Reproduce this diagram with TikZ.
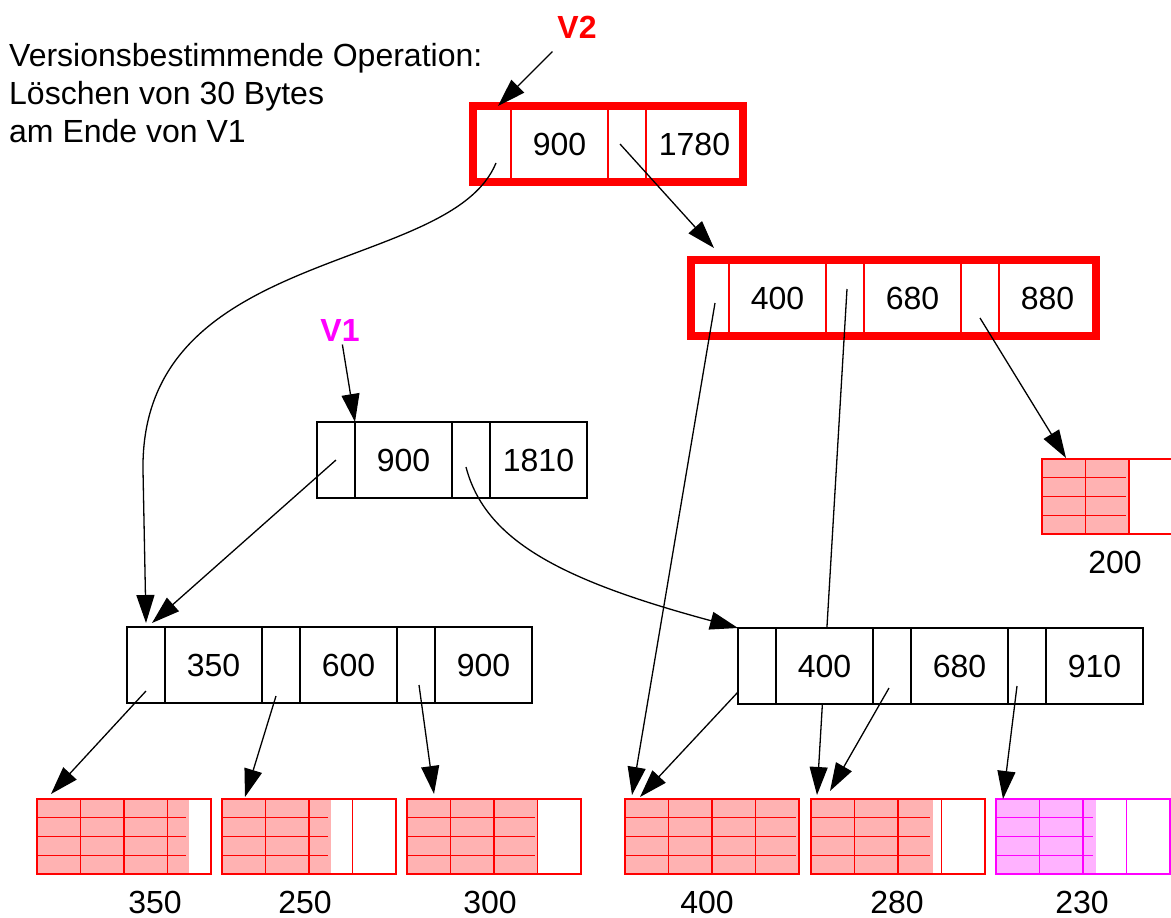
\documentclass[tikz,border=0pt]{standalone}
\usepackage{fontspec}
\setmainfont{Liberation Sans}
\usetikzlibrary{arrows.meta,positioning}
\definecolor{vmag}{RGB}{255,0,255}

\begin{document}
\begin{tikzpicture}[x=1pt, y=-1pt,
        font=\fontsize{32}{38}\selectfont,
        cell/.style={inner sep=0pt, outer sep=0pt, minimum height=76, line width=1.3pt},
        ptrcell/.style={cell, minimum width=38},
        keycell/.style={cell, minimum width=97},
        block/.style={inner sep=0pt, outer sep=0pt, minimum width=174, minimum height=75, line width=1.3pt},
        vlabel/.style={font=\fontsize{32}{38}\selectfont\bfseries},
        link/.style={-{Triangle[length=28pt,width=18pt]}, line width=1.3pt}]
    \useasboundingbox (0,0) rectangle (1171,918);

    \node[anchor=base west, align=left, inner sep=0pt] (op) at (9,142)
        {Versionsbestimmende Operation:\\L\"oschen von 30 Bytes\\am Ende von V1};

    % V2 root
    \node[ptrcell, draw=red, anchor=north west] (t1) at (473,106) {};
    \node[keycell, draw=red, right=0pt of t1] (t2) {900};
    \node[ptrcell, draw=red, right=0pt of t2] (t3) {};
    \node[keycell, draw=red, right=0pt of t3] (t4) {1780};
    \draw[red, line width=8pt] (t1.north west) rectangle (t4.south east);

    % V2 inner node
    \node[ptrcell, draw=red, anchor=north west] (r1) at (691,260) {};
    \node[keycell, draw=red, right=0pt of r1] (r2) {400};
    \node[ptrcell, draw=red, right=0pt of r2] (r3) {};
    \node[keycell, draw=red, right=0pt of r3] (r4) {680};
    \node[ptrcell, draw=red, right=0pt of r4] (r5) {};
    \node[keycell, draw=red, right=0pt of r5] (r6) {880};
    \draw[red, line width=8pt] (r1.north west) rectangle (r6.south east);

    % V1 root
    \node[ptrcell, draw, fill=white, anchor=north west] (w1) at (317,422) {};
    \node[keycell, draw, fill=white, right=0pt of w1] (w2) {900};
    \node[ptrcell, draw, fill=white, right=0pt of w2] (w3) {};
    \node[keycell, draw, fill=white, right=0pt of w3] (w4) {1810};

    % left inner node
    \node[ptrcell, draw, fill=white, anchor=north west] (l1) at (127,627) {};
    \node[keycell, draw, fill=white, right=0pt of l1] (l2) {350};
    \node[ptrcell, draw, fill=white, right=0pt of l2] (l3) {};
    \node[keycell, draw, fill=white, right=0pt of l3] (l4) {600};
    \node[ptrcell, draw, fill=white, right=0pt of l4] (l5) {};
    \node[keycell, draw, fill=white, right=0pt of l5] (l6) {900};

    % data blocks, 4 x 100 bytes
    \foreach \name/\bx/\by/\bytes/\nl/\col/\lx in {d350/37/799/350/3/red/155,
            d250/222/799/250/3/red/305, d300/407/799/300/3/red/490,
            d400/625/799/400/3/red/707, d280/811/799/280/3/red/897,
            d230/996/799/230/3/vmag/1082, d200/1042/459/200/2/red/1115}
    {
        \fill[fill=\col!30] (\bx,\by) rectangle ++({0.435*\bytes},75);
        \foreach \k in {1,...,\nl}
            \draw[draw=\col, line width=1.3pt] ({\bx+43.5*\k},\by) -- ++(0,75);
        \foreach \k in {1,2,3}
            \draw[draw=\col, line width=1.3pt] (\bx,{\by+18.75*\k}) -- ++({0.435*\bytes-3},0);
        \node[block, draw=\col, anchor=north west] (\name) at (\bx,\by) {};
        \node (l\name) at (\lx,{\by+103}) {\bytes};
    }

    % runs behind the right inner node
    \draw[link] ([xshift=2pt,yshift=9pt]r3.center) -- ([xshift=6pt,yshift=4pt]d280.north west);

    % right inner node
    \node[ptrcell, draw, fill=white, anchor=north west] (q1) at (738,628) {};
    \node[keycell, draw, fill=white, right=0pt of q1] (q2) {400};
    \node[ptrcell, draw, fill=white, right=0pt of q2] (q3) {};
    \node[keycell, draw, fill=white, right=0pt of q3] (q4) {680};
    \node[ptrcell, draw, fill=white, right=0pt of q4] (q5) {};
    \node[keycell, draw, fill=white, right=0pt of q5] (q6) {910};

    \node[vlabel, text=red] (v2) at (577,27) {V2};
    \node[vlabel, text=vmag] (v1) at (340,330) {V1};

    \draw[link, shorten <=14pt] (v2) -- ([xshift=6pt]t1.north);
    \draw[link] ([xshift=4pt,yshift=-19pt]t1.center) .. controls (450,275) and (140,245) .. (143,470)
        -- ([yshift=4pt]l1.north);
    \draw[link] ([xshift=-7pt]t3.center) -- ([xshift=4pt,yshift=12pt]r1.north);
    \draw[link] (v1) -- (w1.north east);
    \draw[link] (w1.center) -- ([xshift=6pt,yshift=4pt]l1.north);
    \draw[link] ([xshift=-5pt,yshift=-7pt]w3.center) .. controls (485,540) and (560,580) .. (q1.north west);
    \draw[link] ([xshift=5pt,yshift=-5pt]r1.center) -- ([xshift=7pt,yshift=4pt]d400.north west);
    \draw[link] ([yshift=-20pt]r5.center) -- ([xshift=24pt,yshift=1pt]d200.north west);
    \draw[link] ([yshift=-26pt]q1.west) -- ([xshift=15pt,yshift=2pt]d400.north west);
    \draw[link] ([xshift=-3pt,yshift=-22pt]q3.center) -- ([xshift=19pt,yshift=8pt]d280.north west);
    \draw[link] ([xshift=-10pt,yshift=-20pt]q5.center) -- ([xshift=7pt]d230.north west);
    \draw[link] ([yshift=-26pt]l1.center) -- ([xshift=14pt,yshift=5pt]d350.north west);
    \draw[link] ([xshift=-5pt,yshift=-31pt]l3.center) -- ([xshift=23pt,yshift=2pt]d250.north west);
    \draw[link] ([xshift=3pt,yshift=-20pt]l5.center) -- ([xshift=27pt,yshift=5pt]d300.north west);
\end{tikzpicture}
\end{document}
